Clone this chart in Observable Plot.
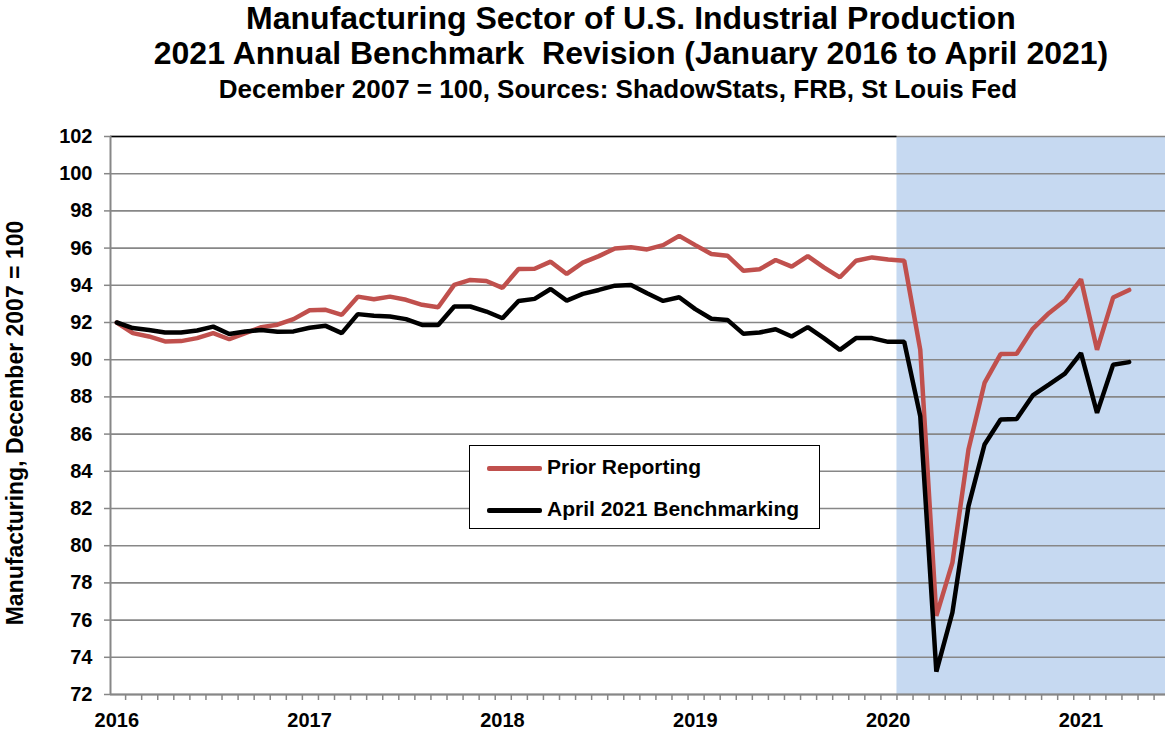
<!DOCTYPE html>
<html><head><meta charset="utf-8">
<script src="https://cdn.jsdelivr.net/npm/d3@7"></script>
<script src="https://cdn.jsdelivr.net/npm/@observablehq/plot@0.6"></script>
<style>
body{margin:0;background:#fff;font-family:"Liberation Sans",Arial,sans-serif;color:#000;}
#wrap{position:relative;width:1167px;height:734px;overflow:hidden;}
#title{height:110px;box-sizing:border-box;padding-left:95px;text-align:center;font-weight:bold;}
#t1{font-size:32px;line-height:35px;padding-top:1px;}
#t2{font-size:26px;line-height:30px;padding-top:3px;padding-right:26px;}
#ylab{position:absolute;left:15px;top:423px;transform:translate(-50%,-50%) rotate(-90deg);white-space:nowrap;font-weight:bold;font-size:23px;}
#legend{position:absolute;left:469px;top:445px;width:351px;height:84px;box-sizing:border-box;border:1.5px solid #000;background:#fff;font-weight:bold;font-size:21px;}
.row{position:absolute;left:17px;height:24px;line-height:24px;white-space:nowrap;}
.sw{display:inline-block;width:55px;height:4.5px;vertical-align:middle;margin-right:5px;border-radius:2px;}
</style></head>
<body>
<div id="wrap">
  <div id="title">
    <div id="t1">Manufacturing Sector of U.S. Industrial Production<br>2021 Annual Benchmark&nbsp; Revision (January 2016 to April 2021)</div>
    <div id="t2">December 2007 = 100, Sources: ShadowStats, FRB, St Louis Fed</div>
  </div>
  <div id="chart"></div>
  <div id="ylab">Manufacturing, December 2007 = 100</div>
  <div id="legend">
    <div class="row" style="top:9px"><span class="sw" style="background:#c0504d"></span>Prior Reporting</div>
    <div class="row" style="top:51px"><span class="sw" style="background:#000"></span>April 2021 Benchmarking</div>
  </div>
</div>
<script>
// Monthly values, January 2016 to April 2021
const years = [2016, 2017, 2018, 2019, 2020, 2021];
const prior = [
  92.0, 91.43, 91.25, 90.98, 91.0, 91.16, 91.43, 91.1, 91.43, 91.75, 91.88, 92.18,
  92.66, 92.68, 92.41, 93.39, 93.25, 93.39, 93.22, 92.95, 92.82, 94.02, 94.29, 94.23,
  93.86, 94.88, 94.89, 95.27, 94.61, 95.22, 95.57, 95.98, 96.04, 95.93, 96.16, 96.66,
  96.16, 95.68, 95.59, 94.78, 94.86, 95.36, 95.0, 95.57, 94.96, 94.43, 95.32, 95.5,
  95.39, 95.32, 90.53, 76.23, 79.09, 85.17, 88.75, 90.3, 90.32, 91.66, 92.5, 93.18,
  94.32, 90.53, 93.34, 93.75
];
const benchmark = [
  92.0, 91.7, 91.6, 91.46, 91.46, 91.57, 91.78, 91.38, 91.52, 91.6, 91.5, 91.52,
  91.72, 91.82, 91.43, 92.45, 92.36, 92.32, 92.18, 91.87, 91.87, 92.86, 92.86, 92.59,
  92.23, 93.16, 93.27, 93.8, 93.18, 93.54, 93.75, 93.98, 94.02, 93.57, 93.16, 93.36,
  92.72, 92.2, 92.14, 91.39, 91.46, 91.64, 91.25, 91.75, 91.16, 90.53, 91.16, 91.16,
  90.96, 90.96, 86.96, 73.23, 76.41, 82.13, 85.44, 86.78, 86.81, 88.08, 88.66, 89.25,
  90.35, 87.14, 89.73, 89.87
];
const yTicks = d3.range(72, 103, 2);
const shadeStartYear = 2020;

const monthIndex = (y) => (y - 2016) * 12;
const xDomain = [-0.39, 65.26];
const priorData = prior.map((v, i) => ({i, v}));
const benchData = benchmark.map((v, i) => ({i, v}));
const yearTicks = years.map(monthIndex);
const monthTicks = d3.range(0, 65).map(i => i + 0.55);
const shadeX1 = monthIndex(shadeStartYear) + 0.55;
const grid = "#878787";

const chart = Plot.plot({
  width: 1167,
  height: 624,
  marginTop: 26,
  marginBottom: 40,
  marginLeft: 110,
  marginRight: 2,
  style: {fontFamily: '"Liberation Sans", Arial, sans-serif', fontSize: "20px", fontWeight: "bold", color: "#000", background: "transparent"},
  x: {domain: xDomain},
  y: {domain: [72, 102]},
  marks: [
    Plot.rect([{x1: shadeX1, x2: xDomain[1]}], {x1: "x1", x2: "x2", y1: 72, y2: 102, fill: "#c6d9f1"}),
    Plot.gridY(yTicks, {stroke: grid, strokeWidth: 1.6, strokeOpacity: 1}),
    Plot.ruleY([102], {x1: xDomain[0], x2: shadeX1, stroke: "#000", strokeWidth: 1.6}),
    Plot.ruleX([xDomain[0]], {stroke: grid, strokeWidth: 2}),
    Plot.ruleY([72], {stroke: grid, strokeWidth: 2}),
    Plot.axisY(yTicks, {tickSize: 6, tickPadding: 12, stroke: grid, strokeWidth: 1.5, label: null, tickFormat: d => String(d)}),
    Plot.axisX(monthTicks, {tickSize: 6, stroke: grid, strokeWidth: 1.5, tickFormat: () => "", label: null}),
    Plot.axisX(yearTicks, {tickSize: 0, tickPadding: 18, tickFormat: d => String(2016 + Math.round(d / 12)), label: null}),
    Plot.line(priorData, {x: "i", y: "v", stroke: "#c0504d", strokeWidth: 4.5, strokeLinejoin: "miter"}),
    Plot.line(benchData, {x: "i", y: "v", stroke: "#000", strokeWidth: 4.5, strokeLinejoin: "miter"})
  ]
});
document.getElementById("chart").appendChild(chart);
</script>
</body></html>
